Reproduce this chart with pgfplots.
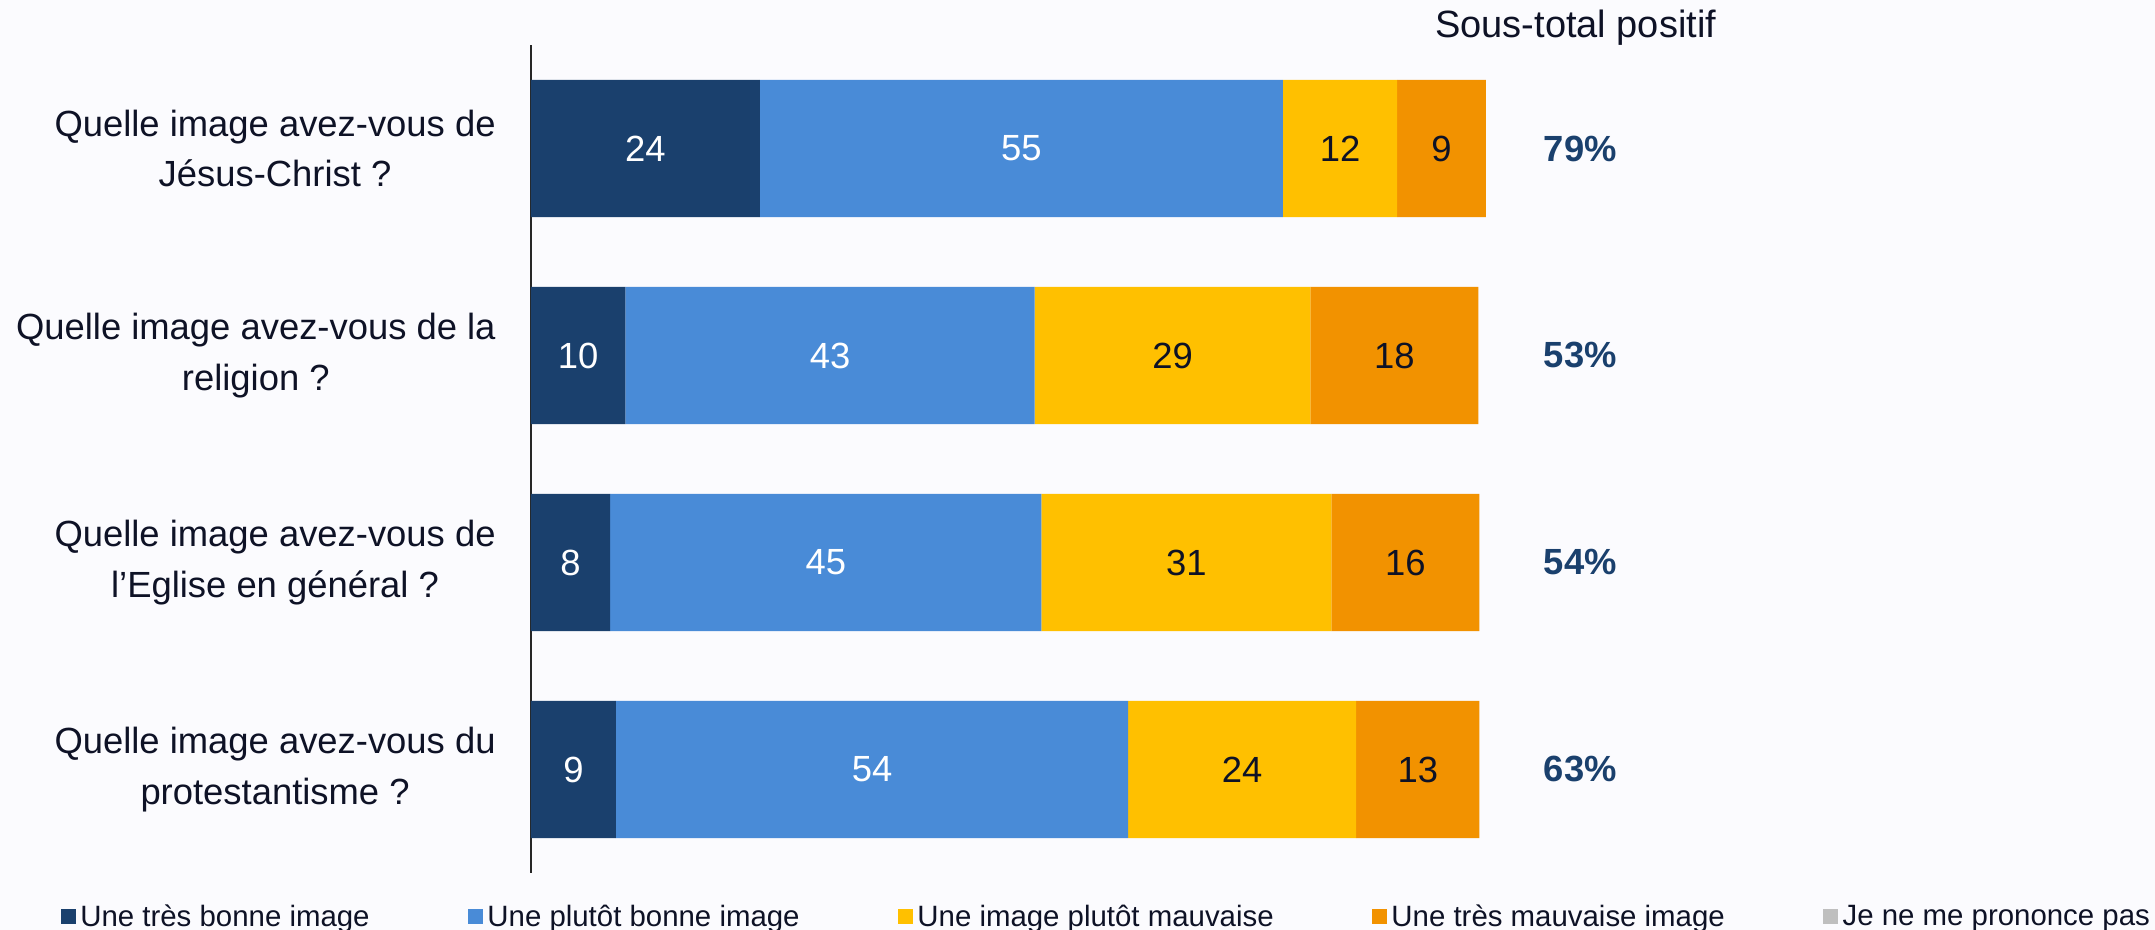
\documentclass[border=0pt]{standalone}
\usepackage{pgfplots}
\usepackage{pgfplotstable}
\pgfplotsset{compat=1.18}
\usepackage{fontspec}
\setmainfont{Liberation Sans}
\definecolor{c1}{RGB}{26,64,109}
\definecolor{c2}{RGB}{73,139,215}
\definecolor{c3}{RGB}{255,192,0}
\definecolor{c4}{RGB}{242,146,0}
\definecolor{c5}{RGB}{191,191,191}
\definecolor{bg}{RGB}{251,251,254}
\definecolor{txt}{RGB}{14,18,38}
\definecolor{pct}{RGB}{26,64,109}
\pgfplotsset{
 base/.style={scale only axis, width=477pt, height=414pt, xmin=0, xmax=100, ymin=-0.5, ymax=3.5, clip=false},
 sq/.style={legend image code/.code={\fill[##1] (0pt,-3.75pt) rectangle (7.5pt,3.75pt);}},
 lab/.style={draw=none, mark=none, nodes near coords, point meta=explicit symbolic, nodes near coords align=center,
   every node near coord/.append style={anchor=center, inner sep=0pt, font=\fontsize{18.2}{22}\selectfont}},
}
\pgfplotstableread{
y a b c d
3 24.0 54.8 12.0 9.3
2 9.9 42.9 28.9 17.6
1 8.3 45.2 30.4 15.5
0 8.9 53.7 23.9 12.9
}\bars
\pgfplotstableread{
x y l
12.0 3 24
51.4 3 55
4.95 2 10
31.35 2 43
4.15 1 8
30.9 1 45
4.45 0 9
35.75 0 54
}\wlab
\pgfplotstableread{
x y l
84.8 3 12
95.45 3 9
67.25 2 29
90.5 2 18
68.7 1 31
91.65 1 16
74.55 0 24
92.95 0 13
}\blab
\pgfplotstableread{
x y l
110 3 79
110 2 53
110 1 54
110 0 63
}\plab
\begin{document}
\begin{tikzpicture}
\fill[bg] (-265.5pt,-28.5pt) rectangle (812pt,436.5pt);
\begin{axis}[base, xbar stacked, bar width=68.7pt,
  axis x line=none, axis y line*=left,
  y axis line style={draw=black!85, line width=0.9pt},
  ytick={0,1,2,3}, major tick length=0pt,
  yticklabels={{Quelle image avez-vous du\\protestantisme ?},
               {Quelle image avez-vous de\\l’Eglise en général ?},
               {Quelle image avez-vous de la\\religion ?},
               {Quelle image avez-vous de\\Jésus-Christ ?}},
  yticklabel style={align=center, font=\fontsize{18.2}{25.4}\selectfont, text=txt, inner sep=0pt, xshift=-17.5pt},
  legend style={at={(-0.4931,-0.0530)}, anchor=west, draw=none, fill=none, inner sep=0pt,
     font=\fontsize{14.7}{17}\selectfont, text=txt, nodes={inner sep=2.2pt},
     /tikz/every even column/.append style={column sep=47pt}},
  legend columns=5, legend cell align=left,
]
\addplot[fill=c1, draw=none, sq] table[x=a,y=y]{\bars};
\addlegendentry{Une très bonne image}
\addplot[fill=c2, draw=none, sq] table[x=b,y=y]{\bars};
\addlegendentry{Une plutôt bonne image}
\addplot[fill=c3, draw=none, sq] table[x=c,y=y]{\bars};
\addlegendentry{Une image plutôt mauvaise}
\addplot[fill=c4, draw=none, sq] table[x=d,y=y]{\bars};
\addlegendentry{Une très mauvaise image}
\addlegendimage{fill=c5, draw=none, sq}
\addlegendentry{Je ne me prononce pas}
\end{axis}
\begin{axis}[base, hide axis]
\addplot[lab, every node near coord/.append style={text=white}] table[x=x,y=y,meta=l]{\wlab};
\addplot[lab, every node near coord/.append style={text=txt}] table[x=x,y=y,meta=l]{\blab};
\addplot[lab, nodes near coords={\pgfplotspointmeta\%}, every node near coord/.append style={text=pct, font=\fontsize{18.2}{22}\selectfont\bfseries}] table[x=x,y=y,meta=l]{\plab};
\node[font=\fontsize{19}{23}\selectfont, text=txt, yshift=8.75pt] at (axis cs:109.5,3.5) {Sous-total positif};
\end{axis}
\pgfresetboundingbox
\path[use as bounding box] (-265.5pt,-28.5pt) rectangle (812pt,436.5pt);
\end{tikzpicture}
\end{document}
